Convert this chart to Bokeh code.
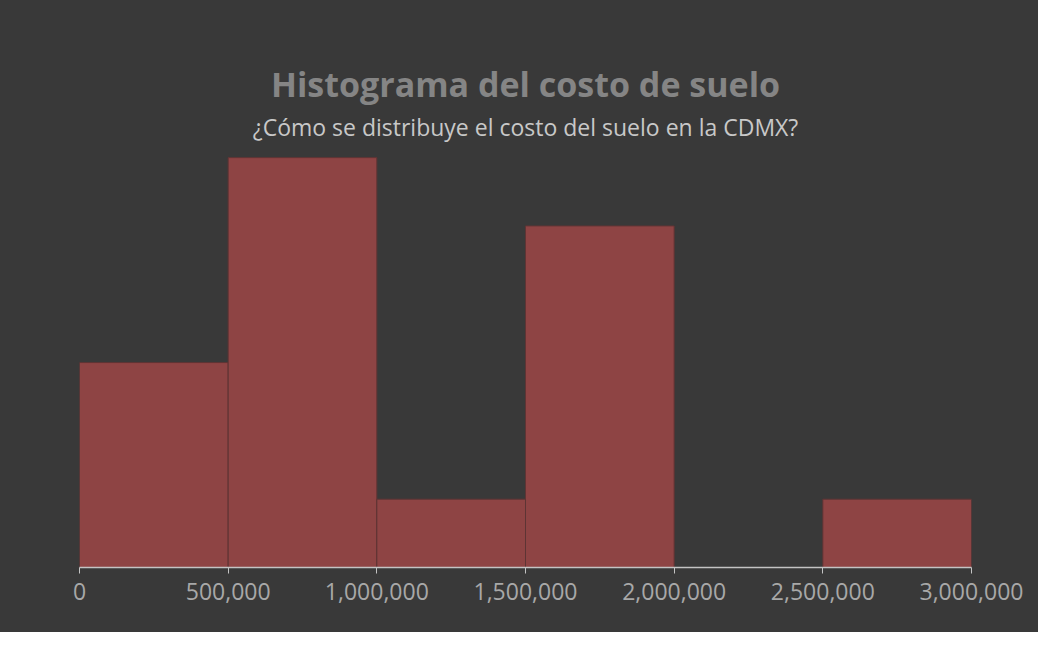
from bokeh.plotting import figure
from bokeh.models import Label, FixedTicker, NumeralTickFormatter, Range1d
from bokeh.embed import file_html
from bokeh.resources import INLINE

# Data
bin_left = [0, 500000, 1000000, 1500000, 2000000, 2500000]
bin_right = [500000, 1000000, 1500000, 2000000, 2500000, 3000000]
counts = [3, 6, 1, 5, 0, 1]
tick_values = [0, 500000, 1000000, 1500000, 2000000, 2500000, 3000000]
title_text = "Histograma del costo de suelo"
subtitle_text = "¿Cómo se distribuye el costo del suelo en la CDMX?"

BG = "#393939"
FONT = "Open Sans"

p = figure(width=1038, height=632, output_backend="svg", toolbar_location=None,
           x_range=Range1d(0, 3000000), y_range=Range1d(0, 8.30),
           min_border_left=79, min_border_right=67, min_border_top=0, min_border_bottom=65)
p.styles = {"background-color": BG}
p.background_fill_color = None
p.border_fill_color = None
p.outline_line_color = None
p.grid.visible = False
p.yaxis.visible = False

p.quad(left=bin_left, right=bin_right, bottom=0, top=counts,
       fill_color="#8e4444", line_color="#5e3434", line_width=1)

ax = p.xaxis[0]
ax.ticker = FixedTicker(ticks=tick_values)
ax.formatter = NumeralTickFormatter(format="0,0")
ax.axis_line_color = "#c4c4c4"
ax.axis_line_width = 1.5
ax.major_tick_line_color = "#c4c4c4"
ax.major_tick_out = 6
ax.major_tick_in = 0
ax.minor_tick_line_color = None
ax.major_label_text_color = "#a8a8a8"
ax.major_label_text_font = FONT
ax.major_label_text_font_size = "23px"
ax.major_label_standoff = 9

p.add_layout(Label(x=1500000, y=7.08, text=title_text, text_align="center",
                   text_baseline="alphabetic", text_font=FONT, text_font_style="bold",
                   text_font_size="34px", text_color="#858585"))
p.add_layout(Label(x=1500000, y=6.45, text=subtitle_text, text_align="center",
                   text_baseline="alphabetic", text_font=FONT,
                   text_font_size="23px", text_color="#c8c8c8"))

open("out.html", "w").write(file_html(p, INLINE))
